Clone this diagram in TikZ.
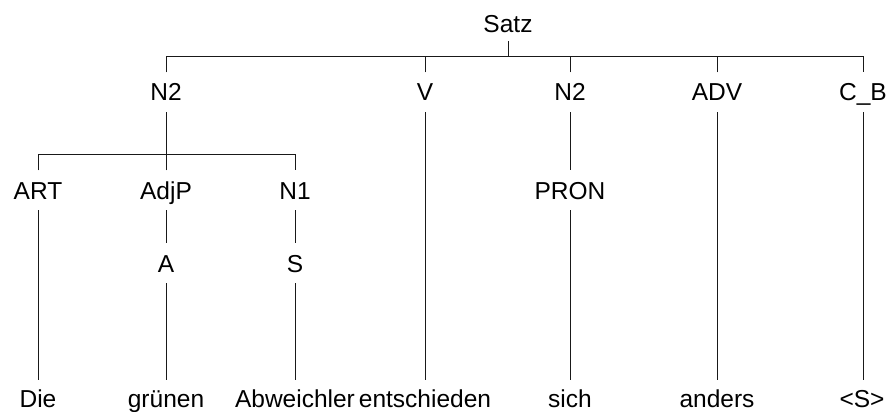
\documentclass[tikz,border=0pt]{standalone}
\usepackage{fontspec}
\setmainfont{Liberation Sans}
\begin{document}
\begin{tikzpicture}[x=1pt,y=-1pt,
  lbl/.style={anchor=base,inner xsep=2pt,inner ysep=11pt,text height=17.5pt,text depth=0pt,
    font=\fontsize{24.5}{29}\selectfont},
  edge/.style={line width=1pt,draw=black!90}]
\useasboundingbox (0,0) rectangle (887,412);
% level 0
\node[lbl,inner ysep=8pt] (satz) at (508,33) {Satz};
% level 1
\node[lbl] (n2a) at (166,101) {N2};
\node[lbl] (v)   at (425,101) {V};
\node[lbl] (n2b) at (570,101) {N2};
\node[lbl] (adv) at (717,101) {ADV};
\node[lbl] (cb)  at (863,101) {C\_B};
% level 2
\node[lbl] (art)  at (38,199)  {ART};
\node[lbl] (adjp) at (166,199) {AdjP};
\node[lbl] (n1)   at (295,199) {N1};
\node[lbl] (pron) at (570,199) {PRON};
% level 3
\node[lbl] (a) at (166,272) {A};
\node[lbl] (s) at (295,272) {S};
% leaves
\node[lbl,inner ysep=9.5pt] (die)  at (38,407)  {Die};
\node[lbl,inner ysep=9.5pt] (gru)  at (166,407) {grünen};
\node[lbl,inner ysep=9.5pt] (abw)  at (295,407) {Abweichler};
\node[lbl,inner ysep=9.5pt] (ent)  at (425,407) {entschieden};
\node[lbl,inner ysep=9.5pt] (sich) at (570,407) {sich};
\node[lbl,inner ysep=9.5pt] (and)  at (717,407) {anders};
\node[lbl,inner ysep=9.5pt] (ss)   at (862,407) {<S>};
% bars
\coordinate (b1) at (508,57);
\coordinate (b2) at (166,154);
\draw[edge] (satz.south) -- (b1);
\draw[edge] (n2a.north) |- (cb.north |- b1) -- (cb.north);
\draw[edge] (v.north) -- (v.north |- b1);
\draw[edge] (n2b.north) -- (n2b.north |- b1);
\draw[edge] (adv.north) -- (adv.north |- b1);
\draw[edge] (n2a.south) -- (b2);
\draw[edge] (art.north) |- (n1.north |- b2) -- (n1.north);
\draw[edge] (adjp.north) -- (b2);
% vertical lines
\draw[edge] (art.south) -- (die.north);
\draw[edge] (adjp.south) -- (a.north);
\draw[edge] (a.south) -- (gru.north);
\draw[edge] (n1.south) -- (s.north);
\draw[edge] (s.south) -- (abw.north);
\draw[edge] (v.south) -- (ent.north);
\draw[edge] (n2b.south) -- (pron.north);
\draw[edge] (pron.south) -- (sich.north);
\draw[edge] (adv.south) -- (and.north);
\draw[edge] (cb.south) -- (ss.north -| cb.south);
\end{tikzpicture}
\end{document}
